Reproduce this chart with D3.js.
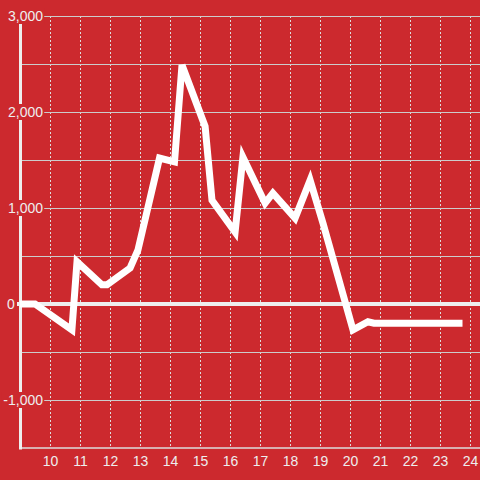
<!DOCTYPE html>
<html><head><meta charset="utf-8">
<script src="https://cdn.jsdelivr.net/npm/d3@7"></script>
<style>html,body{margin:0;padding:0;background:#cc292e;}svg{display:block;}</style>
</head><body>
<svg id="c" width="480" height="480"></svg>
<script>
const hours = [9, 9.5, 10.73, 10.9, 11.73, 11.9, 12.67, 12.93, 13.65, 14.15, 14.4, 15.17, 15.4, 16.17, 16.43, 17.17, 17.43, 18.17, 18.67, 19.1, 20.1, 20.6, 20.8, 23.75];
const values = [0, 0, -270, 440, 200, 200, 375, 560, 1520, 1480, 2490, 1850, 1080, 750, 1530, 1050, 1155, 895, 1290, 840, -270, -185, -200, -200];
const xTicks = [10, 11, 12, 13, 14, 15, 16, 17, 18, 19, 20, 21, 22, 23, 24];
const yGrid = [3000, 2500, 2000, 1500, 1000, 500, -500, -1000];
const yLabels = [3000, 2000, 1000, 0, -1000];

const svg = d3.select("#c");
const W = 480, H = 480;
const x = d3.scaleLinear().domain([9, 24]).range([20, 470]);
const y = d3.scaleLinear().domain([-1500, 3000]).range([448, 16]);
const font = "'Liberation Sans', Arial, sans-serif";

svg.append("rect").attr("width", W).attr("height", H).attr("fill", "#cc292e");

// vertical dashed grid
svg.append("g").selectAll("line").data(xTicks).join("line")
  .attr("x1", d => Math.round(x(d)) + 0.5).attr("x2", d => Math.round(x(d)) + 0.5)
  .attr("y1", y(3000)).attr("y2", y(-1500))
  .attr("stroke", "#dddddd").attr("stroke-width", 1).attr("stroke-dasharray", "2,2");

// horizontal grid
svg.append("g").selectAll("line").data(yGrid).join("line")
  .attr("x1", x(9)).attr("x2", W)
  .attr("y1", d => Math.round(y(d)) + 0.5).attr("y2", d => Math.round(y(d)) + 0.5)
  .attr("stroke", "#cccccc").attr("stroke-width", 1);

// bottom axis line
svg.append("line").attr("x1", x(9)).attr("x2", W)
  .attr("y1", y(-1500)).attr("y2", y(-1500))
  .attr("stroke", "#dddddd").attr("stroke-width", 1.5);

// zero line
svg.append("line").attr("x1", 17).attr("x2", W)
  .attr("y1", y(0)).attr("y2", y(0))
  .attr("stroke", "#eeeeee").attr("stroke-width", 4);

// vertical axis line
svg.append("line").attr("x1", x(9) + 0.5).attr("x2", x(9) + 0.5)
  .attr("y1", y(3000) - 8).attr("y2", y(-1500) + 1.5)
  .attr("stroke", "#eeeeee").attr("stroke-width", 3);

// y labels with background
const fmt = d3.format(",");
const yl = svg.append("g").selectAll("g").data(yLabels).join("g");
yl.each(function(d) {
  const g = d3.select(this);
  const t = g.append("text")
    .attr("x", d === 0 ? 7 : 43)
    .attr("y", y(d)).attr("dy", "0.36em")
    .attr("text-anchor", d === 0 ? "start" : "end")
    .attr("font-family", font).attr("font-size", 14)
    .attr("fill", "#eeeeee").text(fmt(d).replace("−", "-"));
  const b = t.node().getBBox();
  g.insert("rect", "text").attr("x", b.x - 2).attr("y", y(d) - 8)
    .attr("width", b.width + 3).attr("height", 16).attr("fill", "#cc292e");
});

// x labels
svg.append("g").selectAll("text").data(xTicks).join("text")
  .attr("x", d => x(d) + 0.5).attr("y", 466)
  .attr("text-anchor", "middle")
  .attr("font-family", font).attr("font-size", 14)
  .attr("fill", "#eeeeee").text(d => d);

// data line
const pts = hours.map((h, i) => [h, values[i]]);
svg.append("path").datum(pts)
  .attr("d", d3.line().x(d => x(d[0])).y(d => y(d[1])))
  .attr("fill", "none").attr("stroke", "#ffffff").attr("stroke-width", 7)
  .attr("stroke-linejoin", "miter");
</script>
</body></html>
